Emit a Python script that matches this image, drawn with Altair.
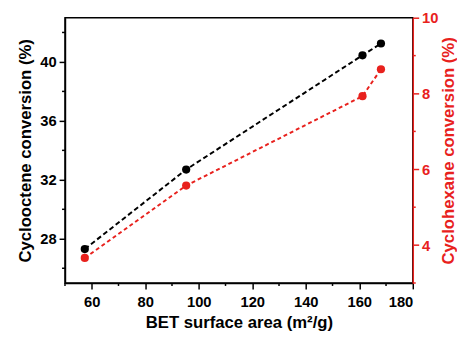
import altair as alt
import pandas as pd

bet = [57.4, 95.3, 161.2, 168.1]
cyclooctene = [27.3, 32.7, 40.45, 41.25]
cyclohexane = [3.66, 5.57, 7.93, 8.64]

x_major = [60, 80, 100, 120, 140, 160, 180]
x_minor = [50, 70, 90, 110, 130, 150, 170]
left_major = [28, 32, 36, 40]
left_minor = [26, 30, 34, 38, 42]
right_major = [4, 6, 8, 10]
right_minor = [3, 5, 7, 9]

df = pd.DataFrame({"bet": bet, "octene": cyclooctene, "hexane": cyclohexane})
dxm = pd.DataFrame({"bet": x_minor})
dlm = pd.DataFrame({"octene": left_minor})
drm = pd.DataFrame({"hexane": right_minor})

RED = "#e8211d"
FONT = "Liberation Sans"

xscale = alt.Scale(domain=[50, 180], nice=False, zero=False)
xaxis = alt.Axis(title="BET surface area (m²/g)", values=x_major, tickSize=6,
                 grid=False, domainColor="black", tickColor="black", labelColor="black",
                 titleColor="black", tickWidth=1.5, domainWidth=1.5, labelPadding=6,
                 titlePadding=5, labelOverlap=False)
lscale = alt.Scale(domain=[25, 43], nice=False, zero=False)
laxis = alt.Axis(title="Cyclooctene conversion (%)", values=left_major, tickSize=6,
                 grid=False, domainColor="black", tickColor="black", labelColor="black",
                 titleColor="black", tickWidth=1.5, domainWidth=1.5, labelPadding=3,
                 titlePadding=5, orient="left", labelOverlap=False)
rscale = alt.Scale(domain=[3, 10], nice=False, zero=False)
raxis = alt.Axis(title="Cyclohexane conversion (%)", values=right_major, tickSize=6,
                 grid=False, domainColor=RED, tickColor=RED, labelColor=RED,
                 titleColor=RED, tickWidth=1.5, domainWidth=1.5, labelPadding=3,
                 titlePadding=3, orient="right", titleAngle=270, titleBaseline="top",
                 labelOverlap=False)

X = alt.X("bet:Q", scale=xscale, axis=xaxis)
YL = alt.Y("octene:Q", scale=lscale, axis=laxis)
YR = alt.Y("hexane:Q", scale=rscale, axis=raxis)

base = alt.Chart(df)

black_line = base.mark_line(color="black", strokeDash=[5, 3], strokeWidth=2).encode(x=X, y=YL)
black_pts = base.mark_circle(color="black", size=70, opacity=1).encode(x=X, y=YL)
left_ticks = alt.Chart(dlm).mark_rule(color="black", strokeWidth=1.5).encode(
    y=YL, x=alt.value(0), x2=alt.value(-3))
x_ticks = alt.Chart(dxm).mark_rule(color="black", strokeWidth=1.5).encode(
    x=X, y={"value": {"expr": "height"}}, y2={"value": {"expr": "height + 3"}})

red_line = base.mark_line(color=RED, strokeDash=[4, 3], strokeWidth=2).encode(x=X, y=YR)
red_pts = base.mark_circle(color=RED, size=70, opacity=1).encode(x=X, y=YR)
right_ticks = alt.Chart(drm).mark_rule(color=RED, strokeWidth=1.5).encode(
    y=YR, x={"value": {"expr": "width"}}, x2={"value": {"expr": "width + 3"}})

left = alt.layer(black_line, black_pts, left_ticks, x_ticks)
right = alt.layer(red_line, red_pts, right_ticks)

chart = alt.layer(left, right).resolve_scale(y="independent").properties(
    width=457, height=325, background="white",
    autosize=alt.AutoSizeParams(type="fit", contains="padding"),
    padding={"left": 9, "top": 0, "right": 0, "bottom": 0}
).configure_view(stroke="black", strokeWidth=1.5).configure_axis(
    labelFont=FONT, titleFont=FONT, labelFontSize=15, titleFontSize=17,
    labelFontWeight="bold", titleFontWeight="bold"
)

chart.save("out.html", embed_options={"renderer": "svg", "actions": False})
